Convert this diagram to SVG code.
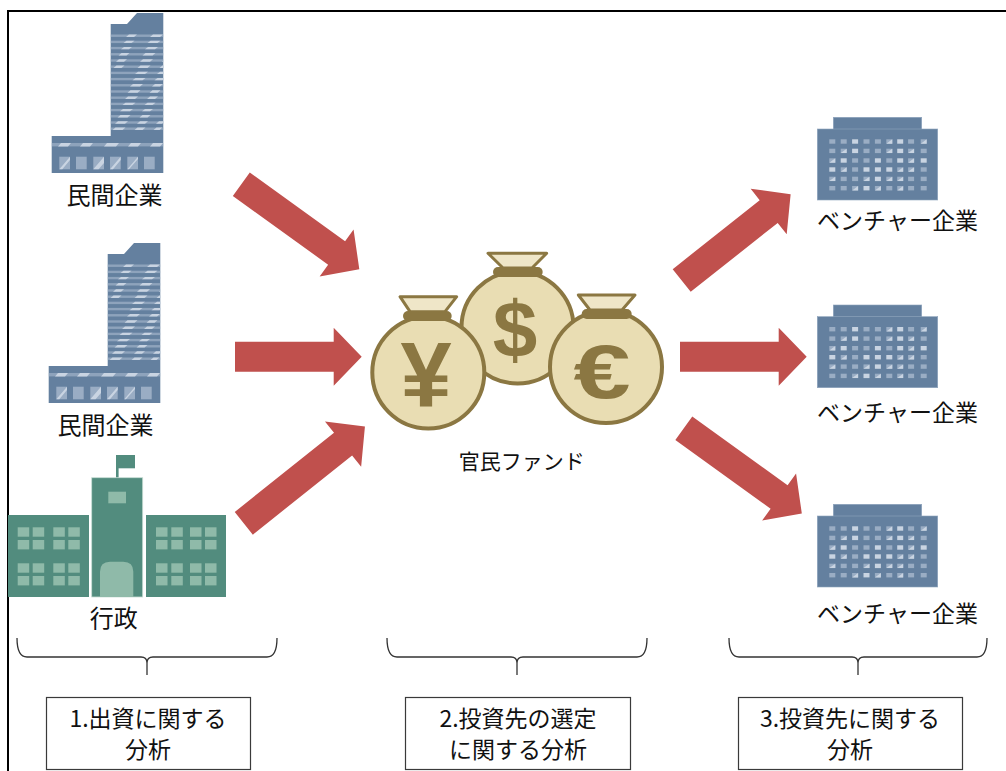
<svg xmlns="http://www.w3.org/2000/svg" xmlns:xlink="http://www.w3.org/1999/xlink" width="1006" height="771" viewBox="0 0 1006 771">
  <style>
    .lbl { font-family: "Noto Sans CJK JP", "Liberation Sans", sans-serif; fill: #111; text-anchor: middle; }
    .bld { fill: #64809f; }
    .str { fill: #8ea3bc; }
    .hl { fill: #c9d4e2; }
    .w1 { fill: #9aadc4; }
    .w2 { fill: #c9d4e2; }
    .gov { fill: #528c7e; }
    .govw { fill: #8fbaa9; }
    .bag { fill: #e9ddb3; stroke: #8b7742; stroke-width: 4; }
    .neck { fill: #efe6c8; stroke: #8b7742; stroke-width: 3; stroke-linejoin: round; }
    .collar { fill: #8b7742; }
    .sym { font-family: "Liberation Sans", "DejaVu Sans", sans-serif; font-weight: bold; fill: #8b7742; text-anchor: middle; }
    .arrow { fill: #c0504d; }
    .brace { fill: none; stroke: #333; stroke-width: 1.3; }
    .box { fill: #fff; stroke: #3a3a3a; stroke-width: 1.2; }
  </style>
  <defs>
    <clipPath id="towerClip"><rect x="110.7" y="13" width="52.6" height="123"/></clipPath>
    <clipPath id="baseClip"><rect x="51.7" y="136" width="111.6" height="37"/></clipPath>
    <!-- high-rise office tower -->
    <g id="towerIcon">
      <path class="bld" d="M110.7,24 H127 L137,13 H163.3 V136 H110.7 Z"/>
      <g clip-path="url(#towerClip)">
        <g class="str">
          <rect x="110.7" y="34.5" width="52.6" height="2.4"/>
          <rect x="110.7" y="40.7" width="52.6" height="2.4"/>
          <rect x="110.7" y="46.9" width="52.6" height="2.4"/>
          <rect x="110.7" y="53.1" width="52.6" height="2.4"/>
          <rect x="110.7" y="59.3" width="52.6" height="2.4"/>
          <rect x="110.7" y="65.5" width="52.6" height="2.4"/>
          <rect x="110.7" y="71.7" width="52.6" height="2.4"/>
          <rect x="110.7" y="77.9" width="52.6" height="2.4"/>
          <rect x="110.7" y="84.1" width="52.6" height="2.4"/>
          <rect x="110.7" y="90.3" width="52.6" height="2.4"/>
          <rect x="110.7" y="96.5" width="52.6" height="2.4"/>
          <rect x="110.7" y="102.7" width="52.6" height="2.4"/>
          <rect x="110.7" y="108.9" width="52.6" height="2.4"/>
          <rect x="110.7" y="115.1" width="52.6" height="2.4"/>
          <rect x="110.7" y="121.3" width="52.6" height="2.4"/>
          <rect x="110.7" y="127.5" width="52.6" height="2.4"/>
        </g>
        <g class="hl">
          <path d="M150,36.9 l3,-2.4 h10 l-3,2.4 Z M126,36.9 l3,-2.4 h8 l-3,2.4 Z"/>
          <path d="M147.5,43.1 l3,-2.4 h10 l-3,2.4 Z M123.5,43.1 l3,-2.4 h8 l-3,2.4 Z"/>
          <path d="M145,49.3 l3,-2.4 h10 l-3,2.4 Z M121,49.3 l3,-2.4 h8 l-3,2.4 Z"/>
          <path d="M142.5,55.5 l3,-2.4 h10 l-3,2.4 Z M118.5,55.5 l3,-2.4 h8 l-3,2.4 Z"/>
          <path d="M140,61.7 l3,-2.4 h10 l-3,2.4 Z M116,61.7 l3,-2.4 h8 l-3,2.4 Z M162,61.7 l3,-2.4 h6 l-3,2.4 Z"/>
          <path d="M137.5,67.9 l3,-2.4 h10 l-3,2.4 Z M113.5,67.9 l3,-2.4 h8 l-3,2.4 Z M159.5,67.9 l3,-2.4 h6 l-3,2.4 Z"/>
          <path d="M135,74.1 l3,-2.4 h10 l-3,2.4 Z M157,74.1 l3,-2.4 h8 l-3,2.4 Z"/>
          <path d="M132.5,80.3 l3,-2.4 h10 l-3,2.4 Z M154.5,80.3 l3,-2.4 h8 l-3,2.4 Z"/>
          <path d="M130,86.5 l3,-2.4 h10 l-3,2.4 Z M152,86.5 l3,-2.4 h8 l-3,2.4 Z"/>
          <path d="M127.5,92.7 l3,-2.4 h10 l-3,2.4 Z M149.5,92.7 l3,-2.4 h8 l-3,2.4 Z"/>
          <path d="M125,98.9 l3,-2.4 h10 l-3,2.4 Z M147,98.9 l3,-2.4 h8 l-3,2.4 Z"/>
          <path d="M122.5,105.1 l3,-2.4 h10 l-3,2.4 Z M144.5,105.1 l3,-2.4 h8 l-3,2.4 Z"/>
          <path d="M120,111.3 l3,-2.4 h10 l-3,2.4 Z M142,111.3 l3,-2.4 h8 l-3,2.4 Z"/>
          <path d="M117.5,117.5 l3,-2.4 h10 l-3,2.4 Z M139.5,117.5 l3,-2.4 h8 l-3,2.4 Z"/>
          <path d="M115,123.7 l3,-2.4 h10 l-3,2.4 Z M137,123.7 l3,-2.4 h8 l-3,2.4 Z M156,123.7 l3,-2.4 h6 l-3,2.4 Z"/>
          <path d="M112.5,129.9 l3,-2.4 h10 l-3,2.4 Z M134.5,129.9 l3,-2.4 h8 l-3,2.4 Z M153.5,129.9 l3,-2.4 h6 l-3,2.4 Z"/>
        </g>
      </g>
      <rect class="bld" x="51.7" y="136" width="111.6" height="37"/>
      <g clip-path="url(#baseClip)">
        <rect class="str" x="51.7" y="143" width="111.6" height="3.4"/>
        <path class="hl" d="M58,146.4 l3,-3.4 h10 l-3,3.4 Z M80,146.4 l3,-3.4 h10 l-3,3.4 Z M104,146.4 l3,-3.4 h12 l-3,3.4 Z M128,146.4 l3,-3.4 h10 l-3,3.4 Z M150,146.4 l3,-3.4 h10 l-3,3.4 Z"/>
        <g class="w1">
          <rect x="59.3" y="156.7" width="10.7" height="12.6"/>
          <rect x="76" y="156.7" width="10.7" height="12.6"/>
          <rect x="93.3" y="156.7" width="10.7" height="12.6"/>
          <rect x="110" y="156.7" width="10.7" height="12.6"/>
          <rect x="127.3" y="156.7" width="10.7" height="12.6"/>
          <rect x="144" y="156.7" width="10.7" height="12.6"/>
        </g>
        <path class="hl" d="M59.3,169.3 L70,156.7 V160 L62.3,169.3 Z M93.3,169.3 L104,156.7 V163 L98.5,169.3 Z M110,169.3 L120.7,156.7 V160 L113,169.3 Z M127.3,169.3 L138,156.7 V159 L129,169.3 Z"/>
      </g>
    </g>
    <!-- low-rise venture office -->
    <g id="officeIcon">
      <rect class="bld" x="833.3" y="117.3" width="88.4" height="12" stroke="#8ea3bc" stroke-width="0.6"/>
      <rect class="bld" x="817.3" y="129" width="120.4" height="71" stroke="#8ea3bc" stroke-width="0.6"/>
      <g class="w1">
        <rect x="829.3" y="139.3" width="6" height="4.4"/><rect x="840.7" y="139.3" width="6" height="4.4"/><rect x="863.5" y="139.3" width="6" height="4.4"/><rect x="874.9" y="139.3" width="6" height="4.4"/><rect x="908.1" y="139.3" width="6" height="4.4"/>
        <rect x="829.3" y="148.7" width="6" height="4.4"/><rect x="863.5" y="148.7" width="6" height="4.4"/><rect x="874.9" y="148.7" width="6" height="4.4"/><rect x="920.7" y="148.7" width="6" height="4.4"/>
        <rect x="852.1" y="158.3" width="6" height="4.4"/><rect x="863.5" y="158.3" width="6" height="4.4"/><rect x="886.3" y="158.3" width="6" height="4.4"/>
        <rect x="852.1" y="167.3" width="6" height="4.4"/><rect x="920.7" y="167.3" width="6" height="4.4"/>
        <rect x="840.7" y="176.7" width="6" height="4.4"/><rect x="852.1" y="176.7" width="6" height="4.4"/><rect x="908.1" y="176.7" width="6" height="4.4"/><rect x="920.7" y="176.7" width="6" height="4.4"/>
        <rect x="829.3" y="186" width="6" height="4.4"/><rect x="840.7" y="186" width="6" height="4.4"/><rect x="886.3" y="186" width="6" height="4.4"/><rect x="908.1" y="186" width="6" height="4.4"/><rect x="920.7" y="186" width="6" height="4.4"/>
      </g>
      <g class="w2">
        <rect x="852.1" y="139.3" width="6" height="4.4"/><rect x="897.2" y="139.3" width="6" height="4.4"/>
        <rect x="852.1" y="148.7" width="6" height="4.4"/><rect x="897.2" y="148.7" width="6" height="4.4"/>
        <rect x="840.7" y="158.3" width="6" height="4.4"/><rect x="874.9" y="158.3" width="6" height="4.4"/><rect x="897.2" y="158.3" width="6" height="4.4"/><rect x="920.7" y="158.3" width="6" height="4.4"/>
        <rect x="829.3" y="167.3" width="6" height="4.4"/><rect x="863.5" y="167.3" width="6" height="4.4"/><rect x="874.9" y="167.3" width="6" height="4.4"/><rect x="886.3" y="167.3" width="6" height="4.4"/>
        <rect x="874.9" y="176.7" width="6" height="4.4"/>
        <rect x="863.5" y="186" width="6" height="4.4"/>
      </g>
      <g>
        <rect class="w1" x="886.3" y="139.3" width="6" height="4.4"/><path class="w2" d="M886.3,143.7 L892.3,139.3 V143.7 Z"/>
        <rect class="w1" x="920.7" y="139.3" width="6" height="4.4"/><path class="w2" d="M920.7,143.7 L926.7,139.3 V143.7 Z"/>
        <rect class="w1" x="840.7" y="148.7" width="6" height="4.4"/><path class="w2" d="M840.7,153.1 L846.7,148.7 V153.1 Z"/>
        <rect class="w1" x="886.3" y="148.7" width="6" height="4.4"/><path class="w2" d="M886.3,153.1 L892.3,148.7 V153.1 Z"/>
        <rect class="w1" x="908.1" y="148.7" width="6" height="4.4"/><path class="w2" d="M908.1,153.1 L914.1,148.7 V153.1 Z"/>
        <rect class="w1" x="829.3" y="158.3" width="6" height="4.4"/><path class="w2" d="M829.3,162.7 L835.3,158.3 V162.7 Z"/>
        <rect class="w1" x="908.1" y="158.3" width="6" height="4.4"/><path class="w2" d="M908.1,162.7 L914.1,158.3 V162.7 Z"/>
        <rect class="w1" x="840.7" y="167.3" width="6" height="4.4"/><path class="w2" d="M840.7,171.7 L846.7,167.3 V171.7 Z"/>
        <rect class="w1" x="897.2" y="167.3" width="6" height="4.4"/><path class="w2" d="M897.2,171.7 L903.2,167.3 V171.7 Z"/>
        <rect class="w1" x="908.1" y="167.3" width="6" height="4.4"/><path class="w2" d="M908.1,171.7 L914.1,167.3 V171.7 Z"/>
        <rect class="w1" x="829.3" y="176.7" width="6" height="4.4"/><path class="w2" d="M829.3,181.1 L835.3,176.7 V181.1 Z"/>
        <rect class="w1" x="863.5" y="176.7" width="6" height="4.4"/><path class="w2" d="M863.5,181.1 L869.5,176.7 V181.1 Z"/>
        <rect class="w1" x="886.3" y="176.7" width="6" height="4.4"/><path class="w2" d="M886.3,181.1 L892.3,176.7 V181.1 Z"/>
        <rect class="w1" x="897.2" y="176.7" width="6" height="4.4"/><path class="w2" d="M897.2,181.1 L903.2,176.7 V181.1 Z"/>
        <rect class="w1" x="852.1" y="186" width="6" height="4.4"/><path class="w2" d="M852.1,190.4 L858.1,186 V190.4 Z"/>
        <rect class="w1" x="874.9" y="186" width="6" height="4.4"/><path class="w2" d="M874.9,190.4 L880.9,186 V190.4 Z"/>
        <rect class="w1" x="897.2" y="186" width="6" height="4.4"/><path class="w2" d="M897.2,190.4 L903.2,186 V190.4 Z"/>
      </g>
    </g>
    <!-- block arrow pointing along +x, tail at origin -->
    <path id="arr127" d="M0,-15 H98.7 V-29 L126.7,0 L98.7,29 V15 H0 Z"/>
    <path id="arr145" d="M0,-14.5 H117.5 V-29 L145.5,0 L117.5,29 V14.5 H0 Z"/>
    <path id="arr139" d="M0,-14.5 H111 V-29 L139,0 L111,29 V14.5 H0 Z"/>
    <path id="arr155" d="M0,-14.5 H127 V-29 L155,0 L127,29 V14.5 H0 Z"/>
  </defs>

  <rect x="0" y="0" width="1006" height="771" fill="#fff"/>
  <!-- outer frame, open to the right and bottom -->
  <path d="M8,771 V11 H1006" fill="none" stroke="#000" stroke-width="2"/>

  <g id="connectors">
    <use class="arrow" href="#arr145" transform="translate(241.3,184.2) rotate(35.8)"/>
    <use class="arrow" href="#arr127" transform="translate(235,356.7)"/>
    <use class="arrow" href="#arr155" transform="translate(243.8,523.3) rotate(-38.6)"/>
    <use class="arrow" href="#arr139" transform="translate(681.7,280.5) rotate(-38.4)"/>
    <use class="arrow" href="#arr127" transform="translate(680,356.7)"/>
    <use class="arrow" href="#arr145" transform="translate(683.8,428.3) rotate(35.8)"/>
  </g>

  <g id="company1">
    <use href="#towerIcon"/>
    <text class="lbl" x="114.5" y="204" font-size="24">民間企業</text>
  </g>

  <g id="company2">
    <use href="#towerIcon" transform="translate(-3,230)"/>
    <text class="lbl" x="105.5" y="434" font-size="24">民間企業</text>
  </g>

  <g id="government">
    <rect class="gov" x="8" y="515" width="81" height="82"/>
    <rect class="gov" x="146" y="515" width="80" height="82"/>
    <rect class="gov" x="116" y="455" width="2.6" height="23"/>
    <rect class="gov" x="116" y="455" width="19" height="13.3"/>
    <rect class="gov" x="91.7" y="477.7" width="51" height="119.3" stroke="#c8ddd5" stroke-width="0.8"/>
    <rect class="govw" x="108.3" y="491.7" width="17.7" height="11.6"/>
    <path class="govw" d="M100,597 V571.7 Q100,561.7 110,561.7 H123.3 Q133.3,561.7 133.3,571.7 V597 Z"/>
    <g class="govw">
      <rect x="17.7" y="527.3" width="11.5" height="9.4"/><rect x="32.7" y="527.3" width="11.5" height="9.4"/><rect x="53.3" y="527.3" width="11.5" height="9.4"/><rect x="68.3" y="527.3" width="11.5" height="9.4"/>
      <rect x="17.7" y="540" width="11.5" height="9.4"/><rect x="32.7" y="540" width="11.5" height="9.4"/><rect x="53.3" y="540" width="11.5" height="9.4"/><rect x="68.3" y="540" width="11.5" height="9.4"/>
      <rect x="17.7" y="563.3" width="11.5" height="9.4"/><rect x="32.7" y="563.3" width="11.5" height="9.4"/><rect x="53.3" y="563.3" width="11.5" height="9.4"/><rect x="68.3" y="563.3" width="11.5" height="9.4"/>
      <rect x="17.7" y="576" width="11.5" height="9.4"/><rect x="32.7" y="576" width="11.5" height="9.4"/><rect x="53.3" y="576" width="11.5" height="9.4"/><rect x="68.3" y="576" width="11.5" height="9.4"/>
      <rect x="156" y="527.3" width="11.5" height="9.4"/><rect x="171.3" y="527.3" width="11.5" height="9.4"/><rect x="190" y="527.3" width="11.5" height="9.4"/><rect x="205" y="527.3" width="11.5" height="9.4"/>
      <rect x="156" y="540" width="11.5" height="9.4"/><rect x="171.3" y="540" width="11.5" height="9.4"/><rect x="190" y="540" width="11.5" height="9.4"/><rect x="205" y="540" width="11.5" height="9.4"/>
      <rect x="156" y="563.3" width="11.5" height="9.4"/><rect x="171.3" y="563.3" width="11.5" height="9.4"/><rect x="190" y="563.3" width="11.5" height="9.4"/><rect x="205" y="563.3" width="11.5" height="9.4"/>
      <rect x="156" y="576" width="11.5" height="9.4"/><rect x="171.3" y="576" width="11.5" height="9.4"/><rect x="190" y="576" width="11.5" height="9.4"/><rect x="205" y="576" width="11.5" height="9.4"/>
    </g>
    <text class="lbl" x="113.7" y="627" font-size="24">行政</text>
  </g>

  <g id="fund">
    <!-- dollar bag (behind) -->
    <circle class="bag" cx="517.5" cy="327.5" r="56"/>
    <path class="neck" d="M488,253.3 H546.7 L532,268 H503 Z"/>
    <rect class="collar" x="493" y="267" width="49.7" height="10" rx="5"/>
    <text class="sym" x="515" y="357" font-size="80">$</text>
    <!-- yen bag -->
    <circle class="bag" cx="428.3" cy="372.5" r="56"/>
    <path class="neck" d="M400,296.7 H456.7 L445,311.7 H410 Z"/>
    <rect class="collar" x="403" y="311" width="48.7" height="10" rx="5"/>
    <text class="sym" x="426" y="407" font-size="92">¥</text>
    <!-- euro bag -->
    <circle class="bag" cx="606" cy="367" r="56"/>
    <path class="neck" d="M578.3,295 H635 L622,310 H590 Z"/>
    <rect class="collar" x="581.7" y="309" width="50" height="10" rx="5"/>
    <text class="sym" x="0" y="0" font-size="76" transform="translate(602,398) scale(1.35,1)">€</text>
    <text class="lbl" x="521.7" y="469" font-size="21">官民ファンド</text>
  </g>

  <g id="venture1">
    <use href="#officeIcon"/>
    <text class="lbl" x="897.5" y="229" font-size="23">ベンチャー企業</text>
  </g>

  <g id="venture2">
    <use href="#officeIcon" transform="translate(0,187.7)"/>
    <text class="lbl" x="897.5" y="420.5" font-size="23">ベンチャー企業</text>
  </g>

  <g id="venture3">
    <use href="#officeIcon" transform="translate(0,387)"/>
    <text class="lbl" x="897.5" y="622" font-size="23">ベンチャー企業</text>
  </g>

  <g id="braces">
    <path class="brace" d="M17,638 Q17,657 27,657 H141 Q147,657 147,663 V675 M147,663 Q147,657 153,657 H267 Q277,657 277,638"/>
    <path class="brace" d="M387,638 Q387,657 397,657 H511 Q517,657 517,663 V675 M517,663 Q517,657 523,657 H637 Q647,657 647,638"/>
    <path class="brace" d="M729,638 Q729,657 739,657 H852 Q858,657 858,663 V675 M858,663 Q858,657 864,657 H977 Q987,657 987,638"/>
  </g>

  <g id="analysis1">
    <rect class="box" x="46.5" y="697.5" width="204" height="72"/>
    <text class="lbl" x="148" y="727" font-size="23">1.出資に関する</text>
    <text class="lbl" x="148" y="758" font-size="23">分析</text>
  </g>

  <g id="analysis2">
    <rect class="box" x="405.5" y="697.5" width="225" height="72"/>
    <text class="lbl" x="518" y="727" font-size="23">2.投資先の選定</text>
    <text class="lbl" x="518" y="758" font-size="23">に関する分析</text>
  </g>

  <g id="analysis3">
    <rect class="box" x="738.5" y="697.5" width="224" height="72"/>
    <text class="lbl" x="850" y="727" font-size="23">3.投資先に関する</text>
    <text class="lbl" x="850" y="758" font-size="23">分析</text>
  </g>
</svg>
